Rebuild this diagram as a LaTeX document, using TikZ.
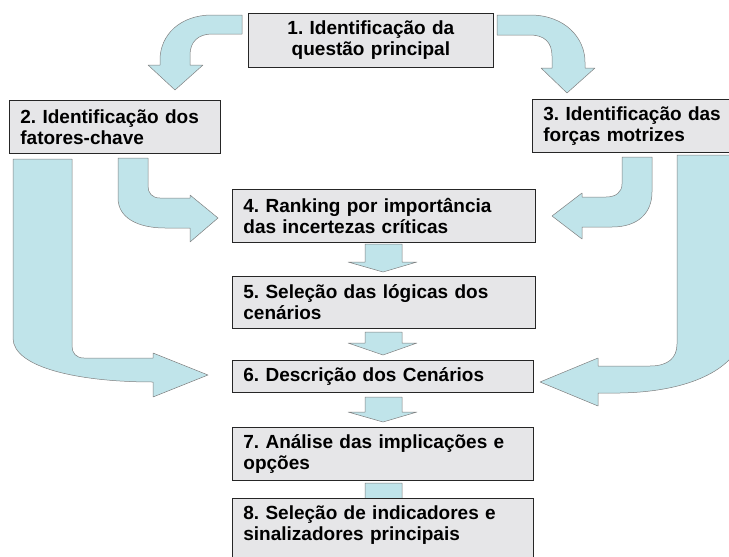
\documentclass[tikz,border=0pt]{standalone}
\usepackage{fontspec}
\setmainfont{Liberation Sans}
\frenchspacing

\definecolor{arrowblue}{RGB}{192,228,234}
\definecolor{boxgrey}{RGB}{230,230,232}

\tikzset{
  box/.style={draw=black!85, fill=boxgrey, line width=0.8pt, anchor=north west,
    align=left, inner xsep=11pt, inner ysep=7pt,
    font=\fontsize{19}{21}\selectfont\bfseries},
  blockarrow/.style={draw=black!50, fill=arrowblue, line width=0.5pt, line join=round}
}

\begin{document}
\begin{tikzpicture}[x=1pt, y=-1pt]
  \clip (0,0) rectangle (729,557);

  % block arrows from the top box
  \draw[blockarrow] (242,15) -- (212,15) .. controls (180,15) and (160,35) .. (160,60)
    -- (160,65) -- (148,65) -- (175,90) -- (203,65) -- (190,65) -- (190,55)
    .. controls (190,42) and (198,34) .. (212,34) -- (242,34) -- cycle;
  \draw[blockarrow] (497,15) -- (530,15) .. controls (565,15) and (585,38) .. (585,62)
    -- (585,68) -- (595,68) -- (567,93) -- (541,68) -- (552,68) -- (552,56)
    .. controls (552,42) and (544,35) .. (530,35) -- (497,35) -- cycle;

  % left side
  \draw[blockarrow] (118,158) -- (118,198) .. controls (118,218) and (138,228) .. (165,228)
    -- (190,228) -- (190,242) -- (218,218) -- (190,195) -- (190,198) -- (160,198)
    .. controls (152,198) and (148,193) .. (148,186) -- (148,158) -- cycle;
  \draw[blockarrow] (13,159) -- (13,338) .. controls (13,368) and (80,382) .. (153,382)
    -- (153,397) -- (208,375) -- (153,353) -- (153,358) -- (84,358)
    .. controls (76,358) and (72,353) .. (72,346) -- (72,159) -- cycle;

  % right side
  \draw[blockarrow] (622,157) -- (622,184) .. controls (622,192) and (616,197) .. (606,197)
    -- (582,197) -- (582,193) -- (552,216) -- (582,239) -- (582,227) -- (612,227)
    .. controls (638,227) and (652,213) .. (652,192) -- (652,157) -- cycle;
  \draw[blockarrow] (677,155) -- (677,344) .. controls (677,358) and (668,366) .. (650,366)
    -- (598,366) -- (598,358) -- (540,382) -- (598,406) -- (598,393) -- (620,393)
    .. controls (680,392) and (725,375) .. (740,345) -- (740,155) -- cycle;

  % short arrows down the middle
  \foreach \ya/\yb/\yc in {244/262/272, 332/343/355, 397/412/422, 483/500/511}
    \draw[blockarrow] (365,\ya) -- (402,\ya) -- (402,\yb) -- (417,\yb) -- (383,\yc)
      -- (348,\yb) -- (365,\yb) -- cycle;

  \node[box, align=center, text width=223pt, minimum height=54pt] (q1) at (248,13)
    {1. Identificação da\\questão principal};
  \node[box, text width=189pt, minimum height=53pt] (q2) at (9,100)
    {2. Identificação dos\\fatores-chave};
  \node[box, text width=198pt, minimum height=53pt] (q3) at (532,99)
    {3. Identificação das\\forças motrizes};
  \node[box, text width=281pt, minimum height=53pt] (q4) at (232,189)
    {4. Ranking por importância\\das incertezas críticas};
  \node[box, text width=281pt, minimum height=52pt] (q5) at (232,276)
    {5. Seleção das lógicas dos\\cenários};
  \node[box, text width=279pt, minimum height=32pt] (q6) at (232,360)
    {6. Descrição dos Cenários};
  \node[box, text width=279pt, minimum height=53pt] (q7) at (232,427)
    {7. Análise das implicações e\\opções};
  \node[box, text width=279pt, text depth=60pt] (q8) at (232,498)
    {8. Seleção de indicadores e\\sinalizadores principais};
\end{tikzpicture}
\end{document}
